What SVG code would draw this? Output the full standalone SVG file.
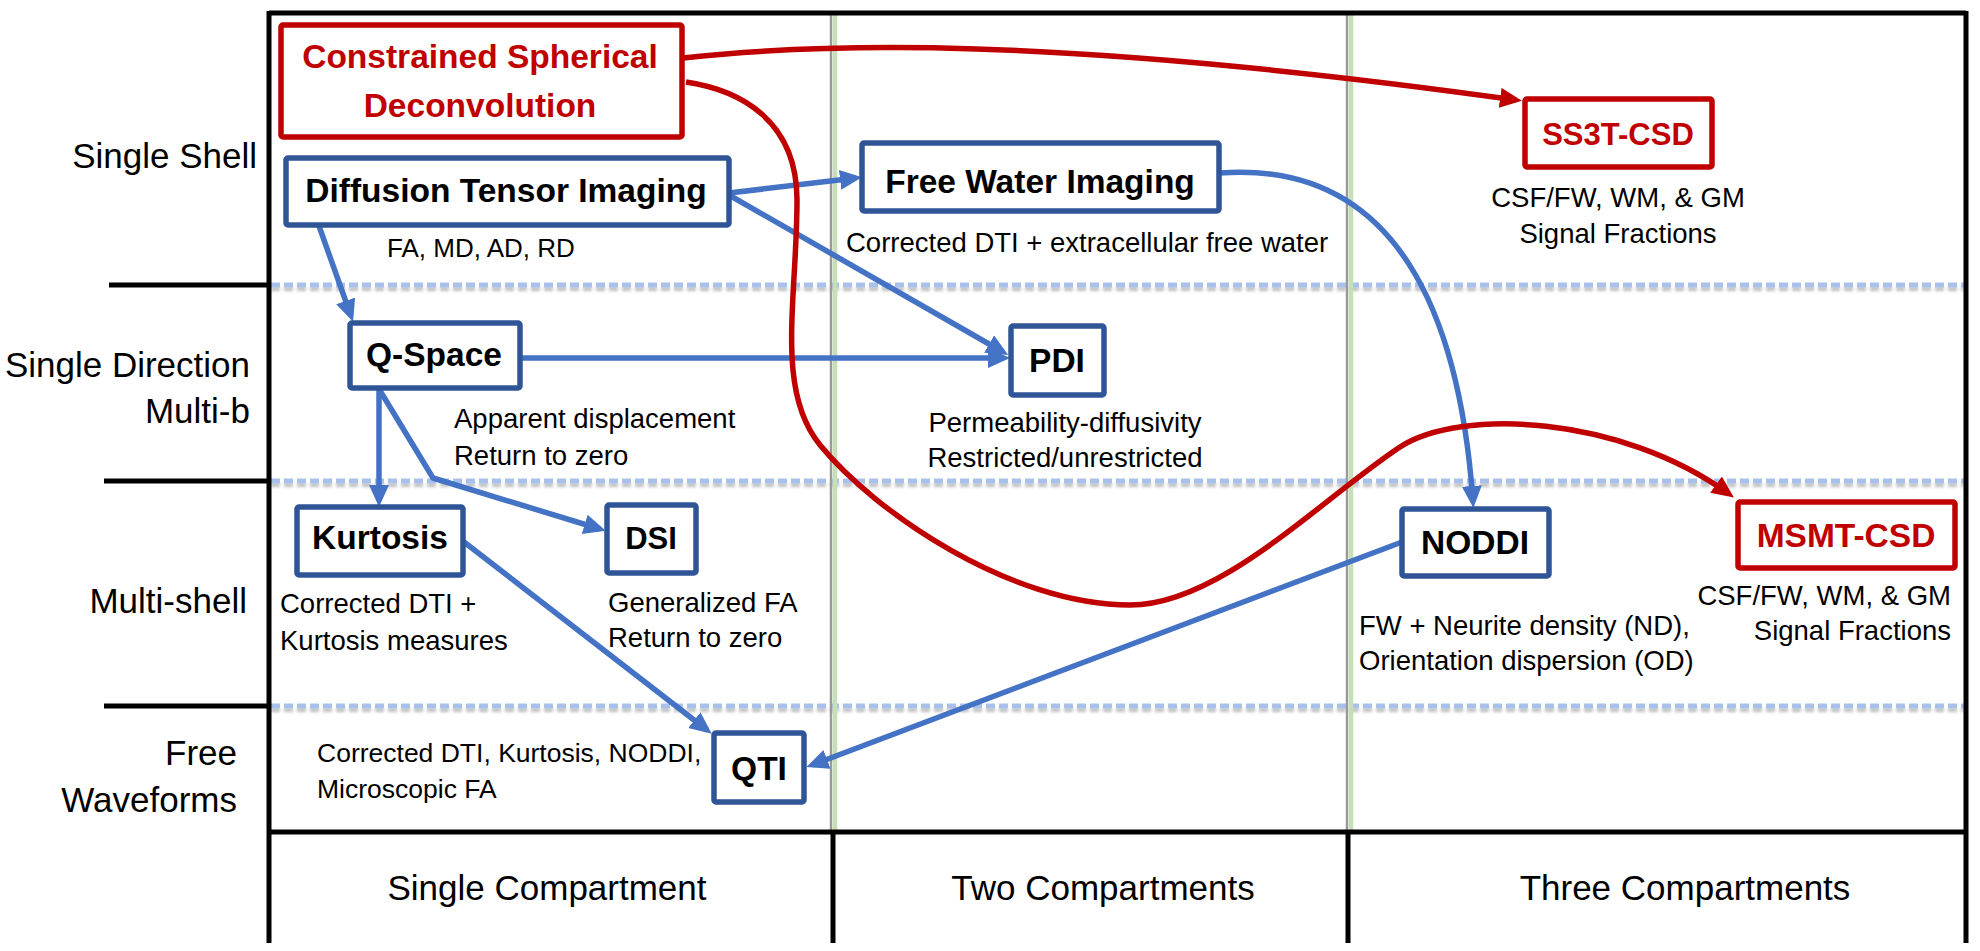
<svg xmlns="http://www.w3.org/2000/svg" width="1980" height="951" viewBox="0 0 1980 951">
<defs>
<style>
text{font-family:"Liberation Sans",Arial,sans-serif;}
.lbl{font-size:35px;fill:#000}
.mid{text-anchor:middle}
.end{text-anchor:end}
.nb{font-size:33.5px;font-weight:bold;fill:#000;text-anchor:middle}
.nr{font-size:33.5px;font-weight:bold;fill:#C00000;text-anchor:middle}
.sm{font-size:27.5px;fill:#000}
.bbox{fill:#fff;stroke:#2F5597;stroke-width:5.5}
.rbox{fill:#fff;stroke:#C00000;stroke-width:5.5}
.frame{stroke:#000;stroke-width:5;fill:none}
.blue{fill:none;stroke:#4472C4;stroke-width:5.5;stroke-linejoin:round}
.red{fill:none;stroke:#C00000;stroke-width:5.5}
.dot{stroke:#A9C1EA;stroke-width:5;stroke-dasharray:9 4;fill:none}
.dotsh{stroke:#bdbdbd;stroke-width:4;stroke-dasharray:9 4;fill:none}
</style>
<marker id="ab" markerUnits="userSpaceOnUse" markerWidth="24" markerHeight="22" refX="16" refY="10" orient="auto">
<path d="M0,0 L22,10 L0,20 z" fill="#4472C4"/>
</marker>
<marker id="ar" markerUnits="userSpaceOnUse" markerWidth="24" markerHeight="22" refX="16" refY="10" orient="auto">
<path d="M0,0 L22,10 L0,20 z" fill="#C00000"/>
</marker>
<filter id="blur" x="-5%" y="-50%" width="110%" height="200%"><feGaussianBlur stdDeviation="1.5"/></filter>
</defs>
<rect width="1980" height="951" fill="#fff"/>

<g id="grid">
<g filter="url(#blur)">
<path class="dotsh" d="M271,289 H1964 M271,485 H1964 M271,710 H1964"/>
</g>
<path class="dot" d="M271,285 H1964 M271,481 H1964 M271,706 H1964"/>
<path d="M831,15 V830 M1347,15 V830" stroke="#9a9a9a" stroke-width="2.5" fill="none"/>
<path d="M835,15 V830 M1351,15 V830" stroke="#C5E0B4" stroke-width="4.5" fill="none"/>
<path class="frame" d="M269,13 H1966 M269,11 V943 M1966,11 V943 M269,832 H1966 M833,832 V943 M1348,832 V943 M109,285 H269 M104,481 H269 M104,706 H269"/>
<text class="lbl end" x="257" y="168">Single Shell</text>
<text class="lbl end" x="250" y="377">Single Direction</text>
<text class="lbl end" x="250" y="423">Multi-b</text>
<text class="lbl end" x="247" y="613">Multi-shell</text>
<text class="lbl end" x="237" y="765">Free</text>
<text class="lbl end" x="237" y="812">Waveforms</text>
<text class="lbl mid" x="547" y="900">Single Compartment</text>
<text class="lbl mid" x="1103" y="900">Two Compartments</text>
<text class="lbl mid" x="1685" y="900">Three Compartments</text>
</g>

<g id="connectors">
<path class="blue" d="M729,193 L856,178" marker-end="url(#ab)"/>
<path class="blue" d="M729,195 L1003,352" marker-end="url(#ab)"/>
<path class="blue" d="M319,226 L351,316" marker-end="url(#ab)"/>
<path class="blue" d="M520,358 L1004,358" marker-end="url(#ab)"/>
<path class="blue" d="M379,389 L379,501" marker-end="url(#ab)"/>
<path class="blue" d="M379,389 L433,478 L600,529" marker-end="url(#ab)"/>
<path class="blue" d="M464,542 L707,730" marker-end="url(#ab)"/>
<path class="blue" d="M1402,542 L812,765" marker-end="url(#ab)"/>
<path class="blue" d="M1220,173 C1400,160 1460,320 1473,502" marker-end="url(#ab)"/>
<path class="red" d="M683,58 C820,43 1050,35 1516,100" marker-end="url(#ar)"/>
<path class="red" d="M686,82 C740,90 797,120 797,200 C797,300 775,390 820,445 C875,512 1010,605 1130,605 C1220,605 1320,500 1400,447 C1460,408 1620,415 1729,494" marker-end="url(#ar)"/>
</g>

<g id="csd">
<rect class="rbox" x="281" y="25" width="401" height="112" rx="2"/>
<text class="nr" x="480" y="68">Constrained Spherical</text>
<text class="nr" x="480" y="117">Deconvolution</text>
</g>
<g id="dti">
<rect class="bbox" x="286" y="158" width="443" height="67" rx="2"/>
<text class="nb" x="506" y="202">Diffusion Tensor Imaging</text>
<text class="sm" x="387" y="257" style="font-size:26px">FA, MD, AD, RD</text>
</g>
<g id="fwi">
<rect class="bbox" x="862" y="143" width="357" height="68" rx="2"/>
<text class="nb" x="1040" y="193">Free Water Imaging</text>
<text class="sm" x="846" y="252">Corrected DTI + extracellular free water</text>
</g>
<g id="ss3t">
<rect class="rbox" x="1525" y="99" width="187" height="68" rx="2"/>
<text class="nr" x="1618" y="145" style="font-size:31px">SS3T-CSD</text>
<text class="sm mid" x="1618" y="207">CSF/FW, WM, &amp; GM</text>
<text class="sm mid" x="1618" y="243">Signal Fractions</text>
</g>
<g id="qspace">
<rect class="bbox" x="350" y="323" width="170" height="65" rx="2"/>
<text class="nb" x="434" y="366">Q-Space</text>
<text class="sm" x="454" y="428">Apparent displacement</text>
<text class="sm" x="454" y="465">Return to zero</text>
</g>
<g id="pdi">
<rect class="bbox" x="1011" y="326" width="93" height="69" rx="2"/>
<text class="nb" x="1057" y="372">PDI</text>
<text class="sm mid" x="1065" y="432">Permeability-diffusivity</text>
<text class="sm mid" x="1065" y="467">Restricted/unrestricted</text>
</g>
<g id="kurtosis">
<rect class="bbox" x="297" y="507" width="166" height="68" rx="2"/>
<text class="nb" x="380" y="549">Kurtosis</text>
<text class="sm" x="280" y="613">Corrected DTI +</text>
<text class="sm" x="280" y="650">Kurtosis measures</text>
</g>
<g id="dsi">
<rect class="bbox" x="607" y="505" width="89" height="68" rx="2"/>
<text class="nb" x="651" y="549" style="font-size:31px">DSI</text>
<text class="sm" x="608" y="612">Generalized FA</text>
<text class="sm" x="608" y="647">Return to zero</text>
</g>
<g id="noddi">
<rect class="bbox" x="1402" y="509" width="147" height="67" rx="2"/>
<text class="nb" x="1475" y="554">NODDI</text>
<text class="sm" x="1359" y="635">FW + Neurite density (ND),</text>
<text class="sm" x="1359" y="670">Orientation dispersion (OD)</text>
</g>
<g id="msmt">
<rect class="rbox" x="1738" y="502" width="217" height="66" rx="2"/>
<text class="nr" x="1846" y="547">MSMT-CSD</text>
<text class="sm end" x="1951" y="605">CSF/FW, WM, &amp; GM</text>
<text class="sm end" x="1951" y="640">Signal Fractions</text>
</g>
<g id="qti">
<rect class="bbox" x="714" y="733" width="90" height="69" rx="2"/>
<text class="nb" x="759" y="780">QTI</text>
<text class="sm" x="317" y="762" style="font-size:26.5px">Corrected DTI, Kurtosis, NODDI,</text>
<text class="sm" x="317" y="798" style="font-size:26.5px">Microscopic FA</text>
</g>
</svg>
